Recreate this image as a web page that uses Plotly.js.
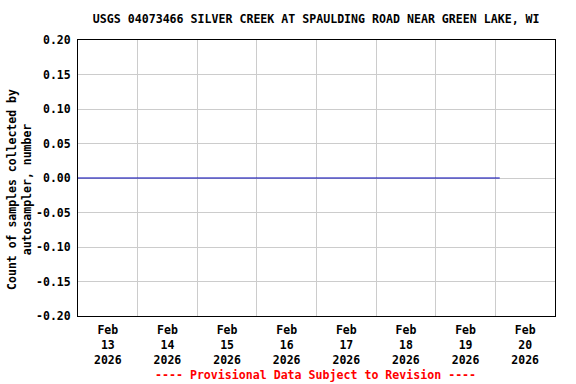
<!DOCTYPE html>
<html>
<head>
<meta charset="utf-8">
<script src="https://cdn.plot.ly/plotly-3.0.1.min.js"></script>
<style>html,body{margin:0;padding:0;background:#fff;}#chart{width:576px;height:384px;}</style>
</head>
<body>
<div id="chart"></div>
<script>
// Data
const times = ["2026-02-13 00:00","2026-02-14 00:00","2026-02-15 00:00","2026-02-16 00:00","2026-02-17 00:00","2026-02-18 00:00","2026-02-19 00:00","2026-02-20 00:00","2026-02-20 01:45"];
const counts = [0,0,0,0,0,0,0,0,0];
const xTickVals = ["2026-02-13 12:00","2026-02-14 12:00","2026-02-15 12:00","2026-02-16 12:00","2026-02-17 12:00","2026-02-18 12:00","2026-02-19 12:00","2026-02-20 12:00"];
const xTickText = ["Feb<br>13<br>2026","Feb<br>14<br>2026","Feb<br>15<br>2026","Feb<br>16<br>2026","Feb<br>17<br>2026","Feb<br>18<br>2026","Feb<br>19<br>2026","Feb<br>20<br>2026"];
const xGridVals = ["2026-02-14","2026-02-15","2026-02-16","2026-02-17","2026-02-18","2026-02-19","2026-02-20"];
const yTickVals = [-0.2,-0.15,-0.1,-0.05,0,0.05,0.1,0.15,0.2];
const yTickText = ["-0.20","-0.15","-0.10","-0.05","0.00","0.05","0.10","0.15","0.20"];
const xRange = ["2026-02-13 00:00","2026-02-21 00:00"];
const yRange = [-0.2, 0.2];
const titleText = "USGS 04073466 SILVER CREEK AT SPAULDING ROAD NEAR GREEN LAKE, WI";
const yTitle = "Count of samples collected by<br>autosampler, number";
const footer = "---- Provisional Data Subject to Revision ----";

const FONT = "DejaVu Sans Mono, monospace";

const trace = {
  x: times, y: counts, type: "scatter", mode: "lines",
  line: {color: "#0000B4", width: 1.2}, hoverinfo: "skip"
};

const layout = {
  width: 576, height: 384,
  margin: {l: 78, r: 21, t: 40, b: 68},
  paper_bgcolor: "#fff", plot_bgcolor: "#fff",
  showlegend: false,
  font: {family: FONT, size: 11, color: "#000", weight: "bold"},
  title: {text: "<b>" + titleText + "</b>", x: 0.549, xanchor: "center", y: 0.95, yanchor: "middle",
          font: {family: FONT, size: 11.6, color: "#000"}},
  xaxis: {
    type: "date", range: xRange, tickmode: "array", tickvals: xTickVals, ticktext: xTickText,
    showgrid: false, zeroline: false, ticks: "", showline: true, linecolor: "#000", linewidth: 1, mirror: true,
    tickfont: {family: FONT, size: 11.5, color: "#000", weight: "bold"}, ticklabelstandoff: 3, fixedrange: true
  },
  xaxis2: {
    type: "date", range: xRange, overlaying: "x", tickmode: "array", tickvals: xGridVals,
    showticklabels: false, showgrid: true, gridcolor: "#cccccc", gridwidth: 1, ticks: "", showline: false, zeroline: false
  },
  yaxis: {
    range: yRange, tickmode: "array", tickvals: yTickVals, ticktext: yTickText,
    showgrid: true, gridcolor: "#cccccc", gridwidth: 1, zeroline: false, ticks: "",
    showline: true, linecolor: "#000", linewidth: 1, mirror: true,
    tickfont: {family: FONT, size: 11.5, color: "#000", weight: "bold"}, ticklabelstandoff: 4
  },
  annotations: [
    {text: "<b>" + yTitle + "</b>", xref: "paper", yref: "paper", x: -0.124, y: 0.46,
     xanchor: "center", yanchor: "middle", textangle: -90, showarrow: false,
     font: {family: FONT, size: 11.5, color: "#000"}},
    {text: "<b>" + footer + "</b>", xref: "paper", yref: "paper", x: 0.497, y: -0.214,
     xanchor: "center", yanchor: "middle", showarrow: false,
     font: {family: FONT, size: 11.6, color: "#ff0000"}}
  ]
};

// dummy trace on xaxis2 so grid axis renders
const gridTrace = {x: [xRange[0]], y: [null], xaxis: "x2", type: "scatter", mode: "lines", hoverinfo: "skip", showlegend: false};

Plotly.newPlot("chart", [gridTrace, trace], layout, {staticPlot: true, displayModeBar: false});
</script>
</body>
</html>
